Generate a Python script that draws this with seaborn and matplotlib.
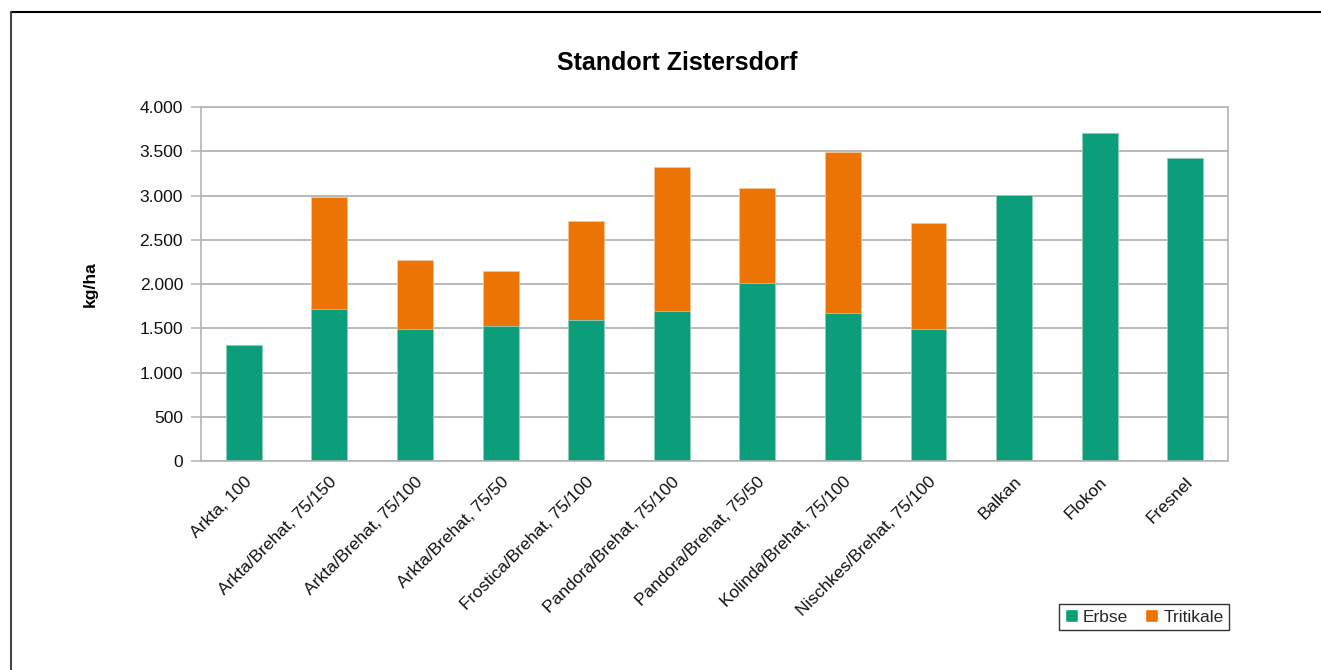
import numpy as np
import pandas as pd
import seaborn as sns
import matplotlib.pyplot as plt
from matplotlib.patches import Patch
from matplotlib.lines import Line2D
from matplotlib.ticker import FuncFormatter

sorten = ['Arkta, 100', 'Arkta/Brehat, 75/150', 'Arkta/Brehat, 75/100', 'Arkta/Brehat, 75/50',
          'Frostica/Brehat, 75/100', 'Pandora/Brehat, 75/100', 'Pandora/Brehat, 75/50',
          'Kolinda/Brehat, 75/100', 'Nischkes/Brehat, 75/100', 'Balkan', 'Flokon', 'Fresnel']
erbse = [1315, 1717, 1488, 1525, 1593, 1695, 2011, 1669, 1488, 3006, 3703, 3427]
tritikale = [0, 1266, 780, 618, 1117, 1627, 1077, 1823, 1201, 0, 0, 0]

GREEN = '#0c9e7b'
ORANGE = '#ec7405'

df = pd.DataFrame({'Sorte': sorten, 'Erbse': erbse, 'Tritikale': tritikale})
df['Gesamt'] = df['Erbse'] + df['Tritikale']

sns.set_style('white')
plt.rcParams['font.family'] = ['Liberation Sans', 'DejaVu Sans']

fig = plt.figure(figsize=(13.21, 6.70), dpi=100)
ax = fig.add_axes([0.1522, 0.3119, 0.7774, 0.5284])

# stacked: total first (orange), Erbse on top (green)
sns.barplot(data=df, x='Sorte', y='Gesamt', color=ORANGE, width=0.42, saturation=1,
            edgecolor='#f6c49a', linewidth=0.6, ax=ax)
sns.barplot(data=df, x='Sorte', y='Erbse', color=GREEN, width=0.42, saturation=1,
            edgecolor='#8fd3c2', linewidth=0.6, ax=ax)

ax.set_ylim(0, 4000)
ax.set_xlim(-0.5, len(sorten) - 0.5)
ax.set_yticks(np.arange(0, 4001, 500))
ax.yaxis.set_major_formatter(FuncFormatter(lambda v, p: f'{int(v):,}'.replace(',', '.')))
ax.grid(axis='y', color='#a6a6a6', linewidth=1.1)
ax.set_axisbelow(True)
for s in ax.spines.values():
    s.set_color('#b4b4b4')
    s.set_linewidth(1.2)

ax.tick_params(axis='y', which='major', left=True, length=7, color='#b4b4b4', width=1.1,
               labelsize=12.5, pad=6, labelcolor='#111111')
ax.tick_params(axis='x', bottom=False, labelsize=12.5, pad=6, labelcolor='#111111')
plt.setp(ax.get_xticklabels(), rotation=45, ha='right', rotation_mode='anchor')

ax.set_xlabel('')
ax.set_ylabel('kg/ha', fontsize=12.5, fontweight='bold', labelpad=30, color='black')

fig.text(0.513, 0.906, 'Standort Zistersdorf', ha='center', va='center',
         fontsize=18, fontweight='bold', color='black')

handles = [Patch(facecolor=GREEN, label='Erbse'), Patch(facecolor=ORANGE, label='Tritikale')]
leg = fig.legend(handles=handles, loc='lower right', bbox_to_anchor=(0.9304, 0.0597), ncol=2,
                 frameon=True, fancybox=False, fontsize=12.5, handlelength=0.75, handleheight=0.75,
                 handletextpad=0.3, columnspacing=1.0, borderpad=0.3, borderaxespad=0)
leg.get_frame().set_edgecolor('black')
leg.get_frame().set_linewidth(1.0)

# outer frame (top and left only)
fig.add_artist(Line2D([11 / 1321, 1], [1 - 12 / 670, 1 - 12 / 670], color='black', linewidth=1.5))
fig.add_artist(Line2D([11 / 1321, 11 / 1321], [0, 1 - 12 / 670], color='#444444', linewidth=1.5))

fig.savefig('out.png', dpi=100)
